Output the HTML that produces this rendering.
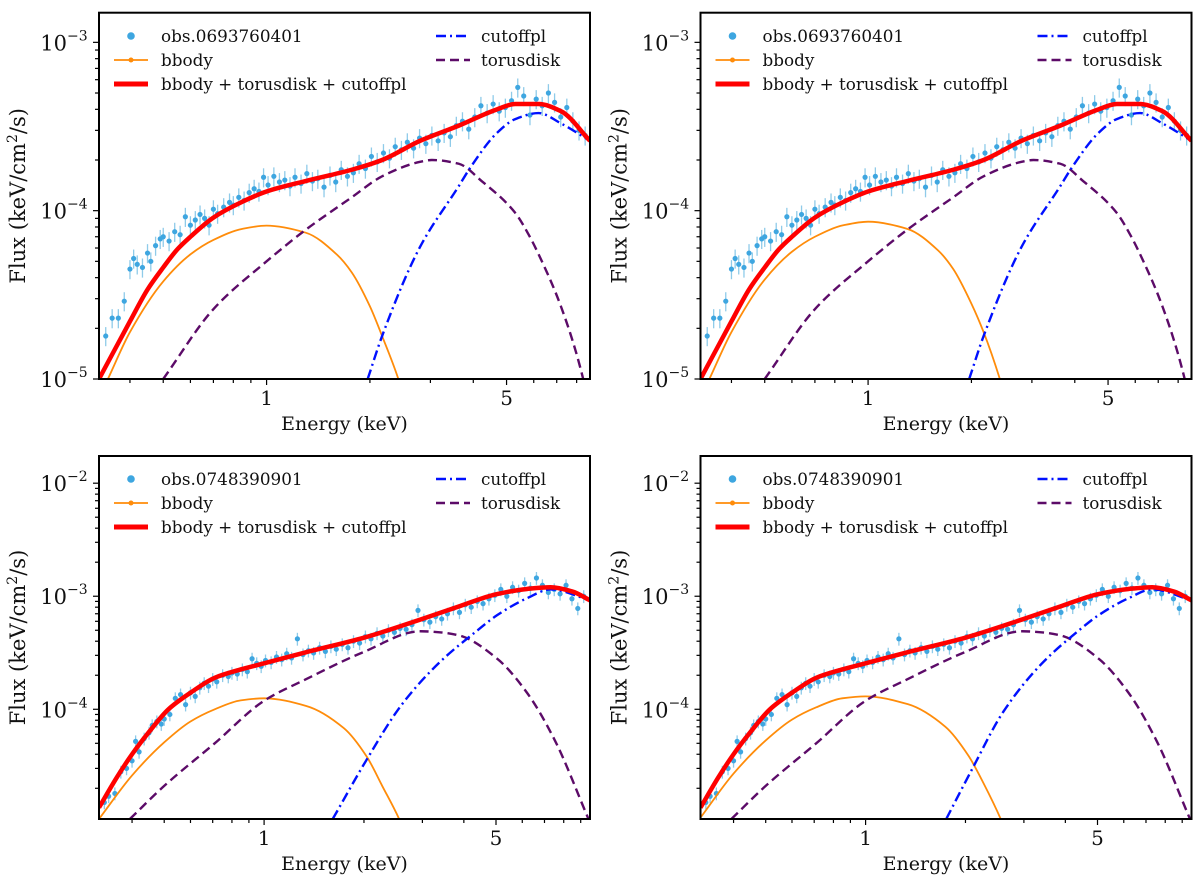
<!DOCTYPE html>
<html><head><meta charset="utf-8">
<style>
html,body{margin:0;padding:0;background:#fff;}
svg{display:block;font-family:"DejaVu Serif","Liberation Serif",serif;}
</style></head>
<body>
<svg id="fig" width="1200" height="887" viewBox="0 0 1200 887" xmlns="http://www.w3.org/2000/svg"></svg>
<script>
// ---- data (flux in units of 1e-4 keV/cm^2/s) ----
const UNIT = 1e-4;
const obsTopLabel = "obs.0693760401";
const obsBotLabel = "obs.0748390901";
const dataETop = [0.34,0.355,0.37,0.385,0.40,0.41,0.42,0.435,0.45,0.46,0.475,0.49,0.50,0.52,0.54,0.56,0.58,0.60,0.62,0.64,0.66,0.68,0.70,0.72,0.75,0.78,0.80,0.83,0.86,0.89,0.92,0.95,0.98,1.01,1.05,1.09,1.13,1.17,1.21,1.26,1.31,1.36,1.41,1.47,1.53,1.59,1.65,1.72,1.79,1.86,1.94,2.02,2.10,2.19,2.28,2.37,2.47,2.57,2.68,2.79,2.91,3.03,3.16,3.29,3.43,3.57,3.72,3.88,4.04,4.21,4.39,4.57,4.76,4.96,5.17,5.39,5.61,5.85,6.10,6.35,6.62,6.90,7.19,7.49,7.80,8.13,8.47];
const dataFTop = [0.18,0.23,0.23,0.29,0.45,0.52,0.48,0.46,0.56,0.50,0.62,0.68,0.70,0.66,0.75,0.72,0.92,0.82,0.88,0.95,0.90,0.82,1.02,0.96,1.05,1.12,1.08,1.20,1.15,1.28,1.35,1.30,1.58,1.42,1.60,1.48,1.52,1.40,1.58,1.45,1.66,1.50,1.55,1.38,1.62,1.48,1.75,1.60,1.68,1.90,1.78,2.10,1.95,2.20,2.05,2.40,2.30,2.55,2.35,2.70,2.50,2.80,2.60,2.90,2.75,3.20,3.40,3.05,3.60,4.20,3.80,4.30,3.90,4.10,4.50,5.40,4.80,3.70,4.60,4.20,5.00,4.40,3.60,4.10,3.40,3.00,2.80];
const dataEBot = [0.33,0.34,0.355,0.37,0.385,0.40,0.41,0.42,0.435,0.45,0.46,0.475,0.49,0.50,0.52,0.54,0.56,0.58,0.60,0.62,0.64,0.66,0.68,0.70,0.72,0.75,0.78,0.80,0.83,0.86,0.89,0.92,0.95,0.98,1.01,1.05,1.09,1.13,1.17,1.21,1.26,1.31,1.36,1.41,1.47,1.53,1.59,1.65,1.72,1.79,1.86,1.94,2.02,2.10,2.19,2.28,2.37,2.47,2.57,2.68,2.79,2.91,3.03,3.16,3.29,3.43,3.57,3.72,3.88,4.04,4.21,4.39,4.57,4.76,4.96,5.17,5.39,5.61,5.85,6.10,6.35,6.62,6.90,7.19,7.49,7.80,8.13,8.47,8.82,9.19];
const dataFBot = [0.15,0.17,0.18,0.28,0.30,0.35,0.52,0.42,0.55,0.62,0.72,0.78,0.74,0.82,0.90,1.25,1.35,1.10,1.40,1.30,1.55,1.70,1.60,1.85,1.75,2.00,1.95,2.10,2.05,2.25,2.15,2.80,2.55,2.40,2.70,2.60,2.90,2.75,3.10,2.85,4.20,3.05,3.30,3.15,3.50,3.25,3.60,3.40,3.75,3.50,4.00,3.85,4.40,4.20,4.70,4.45,5.00,4.80,5.20,5.10,5.60,7.50,6.20,5.90,6.60,6.30,7.00,7.80,7.20,8.40,8.00,9.00,8.60,9.50,10.2,11.5,10.0,12.0,11.2,13.0,11.8,14.5,12.5,10.8,11.5,10.5,12.5,9.5,7.8,10.0];
const ERR_FRAC = 0.13;

// top-left models
const totETL = [0.325,0.4,0.45,0.5,0.55,0.6,0.7,0.85,1.0,1.3,1.77,2.17,2.8,3.63,4.69,5.3,6.2,7.2,8.75];
const totFTL = [0.10,0.22,0.34,0.46,0.59,0.70,0.91,1.13,1.30,1.50,1.75,2.0,2.6,3.2,4.0,4.3,4.3,3.9,2.6];
const bbETL = [0.345,0.4,0.5,0.6,0.7,0.85,1.0,1.3,1.6,1.77,2.0,2.17,2.42,2.6];
const bbFTL = [0.10,0.19,0.38,0.55,0.67,0.78,0.815,0.74,0.55,0.43,0.27,0.18,0.10,0.06];
const bbFTR = [0.10,0.19,0.39,0.57,0.70,0.82,0.86,0.78,0.58,0.45,0.28,0.19,0.10,0.06];
const tdETL = [0.5,0.7,1.0,1.3,1.77,2.17,2.8,3.03,3.63,4.23,5.3,5.8,6.2,7.2,8.36,8.8];
const tdFTL = [0.10,0.26,0.50,0.77,1.2,1.6,1.95,2.0,1.9,1.5,0.97,0.72,0.55,0.27,0.10,0.06];
const cpETL = [1.97,2.17,2.8,3.63,3.92,4.69,5.3,6.2,7.2,8.75];
const cpFTL = [0.10,0.18,0.61,1.4,1.8,2.9,3.5,3.8,3.3,2.6];
// bottom-left models
const totEBL = [0.318,0.36,0.4,0.45,0.515,0.6,0.71,0.85,1.0,1.34,2.0,3.0,3.9,5.0,6.2,7.3,8.5,9.6];
const totFBL = [0.135,0.25,0.40,0.63,1.0,1.4,1.9,2.25,2.55,3.2,4.3,6.3,8.2,10.4,11.6,12.0,11.0,9.2];
const bbEBL = [0.318,0.4,0.5,0.6,0.71,0.85,1.0,1.34,1.74,2.04,2.27,2.58,2.9];
const bbFBL = [0.107,0.26,0.51,0.78,1.0,1.2,1.25,1.07,0.68,0.38,0.21,0.10,0.04];
const bbFBR = [0.110,0.27,0.53,0.81,1.04,1.25,1.30,1.11,0.70,0.39,0.22,0.10,0.04];
const tdEBL = [0.394,0.5,0.71,1.0,1.34,1.99,2.96,3.38,3.87,5.04,6.2,7.5,9.5];
const tdFBL = [0.107,0.21,0.50,1.19,1.85,3.2,4.9,4.8,4.5,2.8,1.4,0.54,0.107];
const cpEBL = [1.61,2.04,2.6,3.38,4.4,5.04,6.2,7.3,9.6];
const cpFBL = [0.107,0.36,1.1,2.6,5.0,6.8,9.6,11.5,9.2];
const cpEBR = [1.75,2.1,2.6,3.38,4.4,5.04,6.2,7.3,9.6];
const cpFBR = [0.107,0.30,0.95,2.5,5.0,6.8,9.6,11.5,9.2];
const yTicksTop = [-5,-4,-3];
const yTicksBot = [-4,-3,-2];
const xTickVals = [1,5];

const NS = "http://www.w3.org/2000/svg";
const svg = document.getElementById("fig");
function mk(tag, attrs, parent){
  const e = document.createElementNS(NS, tag);
  for (const k in attrs) e.setAttribute(k, attrs[k]);
  (parent||svg).appendChild(e);
  return e;
}
let clipId = 0;
function smoothPath(pts){
  const n = pts.length;
  if (n < 2) return "";
  const dx=[], m=[], t=new Array(n);
  for (let i=0;i<n-1;i++){ dx[i]=pts[i+1][0]-pts[i][0]; m[i]=(pts[i+1][1]-pts[i][1])/dx[i]; }
  t[0]=m[0]; t[n-1]=m[n-2];
  for (let i=1;i<n-1;i++){
    if (m[i-1]*m[i] <= 0) t[i]=0;
    else { const w1=2*dx[i]+dx[i-1], w2=dx[i]+2*dx[i-1]; t[i]=(w1+w2)/(w1/m[i-1]+w2/m[i]); }
  }
  let d = "M" + pts[0][0].toFixed(2) + "," + pts[0][1].toFixed(2);
  for (let i=0;i<n-1;i++){
    const h = dx[i]/3;
    d += " C"+(pts[i][0]+h).toFixed(2)+","+(pts[i][1]+t[i]*h).toFixed(2)+" "+(pts[i+1][0]-h).toFixed(2)+","+(pts[i+1][1]-t[i+1]*h).toFixed(2)+" "+pts[i+1][0].toFixed(2)+","+pts[i+1][1].toFixed(2);
  }
  return d;
}

function panel(cfg){
  const g = mk("g", {});
  
  
  const {x0,x1,y0,y1,xmin,xmax,ymin,ymax} = cfg;
  const lx0=Math.log10(xmin), lx1=Math.log10(xmax), ly0=Math.log10(ymin), ly1=Math.log10(ymax);
  const X = e => x0 + (Math.log10(e)-lx0)/(lx1-lx0)*(x1-x0);
  const Y = f => y1 - (Math.log10(f)-ly0)/(ly1-ly0)*(y1-y0);
  const cid = "clip"+(clipId++);
  const defs = mk("defs", {}, g);
  const cp = mk("clipPath", {id:cid}, defs);
  mk("rect", {x:x0,y:y0,width:x1-x0,height:y1-y0}, cp);
  const plot = mk("g", {"clip-path":"url(#"+cid+")"}, g);
  
  

  const dg = mk("g", {}, plot);
  
  
  for (let i=0;i<cfg.dE.length;i++){
    const f = cfg.dF[i]*UNIT, x = X(cfg.dE[i]);
    const eb = mk("line", {x1:x, x2:x, y1:Y(f*(1+ERR_FRAC)), y2:Y(f*(1-ERR_FRAC)), stroke:"#8fcbe9", "stroke-width":1.3}, dg);
    
    
    const c = mk("circle", {cx:x, cy:Y(f), r:2.6, fill:"#3ea6e0"}, dg);
    
    
  }
  function curve(E, F, attrs, name){
    const pts = E.map((e,i)=>[X(e), Y(F[i]*UNIT)]);
    const p = mk("path", Object.assign({d:smoothPath(pts), fill:"none"}, attrs), plot);
    
    
  }
  curve(cfg.bbE, cfg.bbF, {stroke:"#ff8c0a","stroke-width":1.8}, "bbody-curve");
  curve(cfg.tdE, cfg.tdF, {stroke:"#5c0b68","stroke-width":2.4,"stroke-dasharray":"9,5"}, "torusdisk-curve");
  curve(cfg.cpE, cfg.cpF, {stroke:"#0010ff","stroke-width":2.4,"stroke-dasharray":"10,4,2,4"}, "cutoffpl-curve");
  curve(cfg.totE, cfg.totF, {stroke:"#ff0000","stroke-width":4.5,"stroke-linejoin":"round"}, "total-model-curve");

  const fr = mk("rect", {x:x0,y:y0,width:x1-x0,height:y1-y0,fill:"none",stroke:"#000","stroke-width":2}, g);
  
  

  const xt = mk("g", {}, g);
  
  
  for (let dec=-1; dec<=1; dec++){
    for (let m=1;m<=9;m++){
      const v = m*Math.pow(10,dec);
      if (v < xmin || v > xmax) continue;
      const x = X(v);
      const major = xTickVals.includes(+v.toFixed(6));
      mk("line", {x1:x,x2:x,y1:y1,y2:y1+(major?6:4),stroke:"#000","stroke-width":1.2}, xt);
    }
  }
  xTickVals.forEach(v=>{
    const t = mk("text", {x:X(v), y:y1+26, "text-anchor":"middle", "font-size":20, fill:"#111"}, g);
    t.textContent = String(v);
    
    
  });
  const xl = mk("text", {x:(x0+x1)/2, y:y1+51, "text-anchor":"middle", "font-size":19, fill:"#111"}, g);
  xl.textContent = "Energy (keV)";
  
  

  const yt = mk("g", {}, g);
  
  
  for (let dec=-6; dec<=-1; dec++){
    for (let m=1;m<=9;m++){
      const v = m*Math.pow(10,dec);
      if (v < ymin*0.999 || v > ymax) continue;
      const y = Y(v);
      mk("line", {x1:x0,x2:x0-(m===1?6:4),y1:y,y2:y,stroke:"#000","stroke-width":1.2}, yt);
    }
  }
  cfg.yTicks.forEach(p=>{
    const t = mk("text", {x:x0-32, y:Y(Math.pow(10,p))+8, "text-anchor":"end", "font-size":21, fill:"#111"}, g);
    t.textContent = "10";
    
    
    const s = mk("text", {x:x0-32, y:Y(Math.pow(10,p))-2, "text-anchor":"start", "font-size":14, fill:"#111"}, g);
    s.textContent = "\u2212" + Math.abs(p);
    
    
  });
  const ycx = x0-74, ycy = (y0+y1)/2;
  const yl = mk("text", {x:ycx, y:ycy, "text-anchor":"middle", "font-size":21, fill:"#111", transform:"rotate(-90 "+ycx+" "+ycy+")"}, g);
  
  
  yl.appendChild(document.createTextNode("Flux (keV/cm"));
  const sup = mk("tspan", {"font-size":14, dy:-8}, yl);
  sup.textContent = "2";
  const rest = mk("tspan", {dy:8}, yl);
  rest.textContent = "/s)";

  const lg = mk("g", {}, g);
  
  
  const r = cfg.legendRows, lx = x0+15, tx = x0+62, rx = x0+337, rtx = x0+382;
  function entry(y, x, label, drawFn, name){
    const eg = mk("g", {}, lg);
    
    
    drawFn(eg);
    const t = mk("text", {x:x, y:y+6, "font-size":16.8, fill:"#111"}, eg);
    t.textContent = label;
  }
  entry(r[0], tx, cfg.obsLabel, eg=>mk("circle",{cx:lx+17,cy:r[0],r:3.8,fill:"#3ea6e0"},eg), "legend-entry-observation");
  entry(r[1], tx, "bbody", eg=>{mk("line",{x1:lx,x2:lx+34,y1:r[1],y2:r[1],stroke:"#ff8c0a","stroke-width":1.8},eg);mk("circle",{cx:lx+17,cy:r[1],r:2.5,fill:"#ff8c0a"},eg);}, "legend-entry-bbody");
  entry(r[2], tx, "bbody + torusdisk + cutoffpl", eg=>mk("line",{x1:lx,x2:lx+34,y1:r[2],y2:r[2],stroke:"#ff0000","stroke-width":5},eg), "legend-entry-total");
  entry(r[0], rtx, "cutoffpl", eg=>mk("line",{x1:rx,x2:rx+34,y1:r[0],y2:r[0],stroke:"#0010ff","stroke-width":2.5,"stroke-dasharray":"10,4,2,4"},eg), "legend-entry-cutoffpl");
  entry(r[1], rtx, "torusdisk", eg=>mk("line",{x1:rx,x2:rx+34,y1:r[1],y2:r[1],stroke:"#5c0b68","stroke-width":2.5,"stroke-dasharray":"9,5"},eg), "legend-entry-torusdisk");
}

const topBase = {y0:12.7,y1:379,xmin:0.325,xmax:8.75,ymin:1e-5,ymax:1.5e-3,yTicks:yTicksTop,legendRows:[36,60,84],
  obsLabel:obsTopLabel,dE:dataETop,dF:dataFTop,totE:totETL,totF:totFTL,bbE:bbETL,tdE:tdETL,tdF:tdFTL,cpE:cpETL,cpF:cpFTL};
const botBase = {y0:456,y1:819,xmin:0.318,xmax:9.6,ymin:1.07e-5,ymax:1.74e-2,yTicks:yTicksBot,legendRows:[479,503,527],
  obsLabel:obsBotLabel,dE:dataEBot,dF:dataFBot,totE:totEBL,totF:totFBL,bbE:bbEBL,tdE:tdEBL,tdF:tdFBL};
panel(Object.assign({}, topBase, {name:"panel-top-left",x0:99,x1:590,bbF:bbFTL}));
panel(Object.assign({}, topBase, {name:"panel-top-right",x0:700.5,x1:1191.5,bbF:bbFTR}));
panel(Object.assign({}, botBase, {name:"panel-bottom-left",x0:99,x1:590,bbF:bbFBL,cpE:cpEBL,cpF:cpFBL}));
panel(Object.assign({}, botBase, {name:"panel-bottom-right",x0:700.5,x1:1191.5,bbF:bbFBR,cpE:cpEBR,cpF:cpFBR}));
</script>
</body></html>
